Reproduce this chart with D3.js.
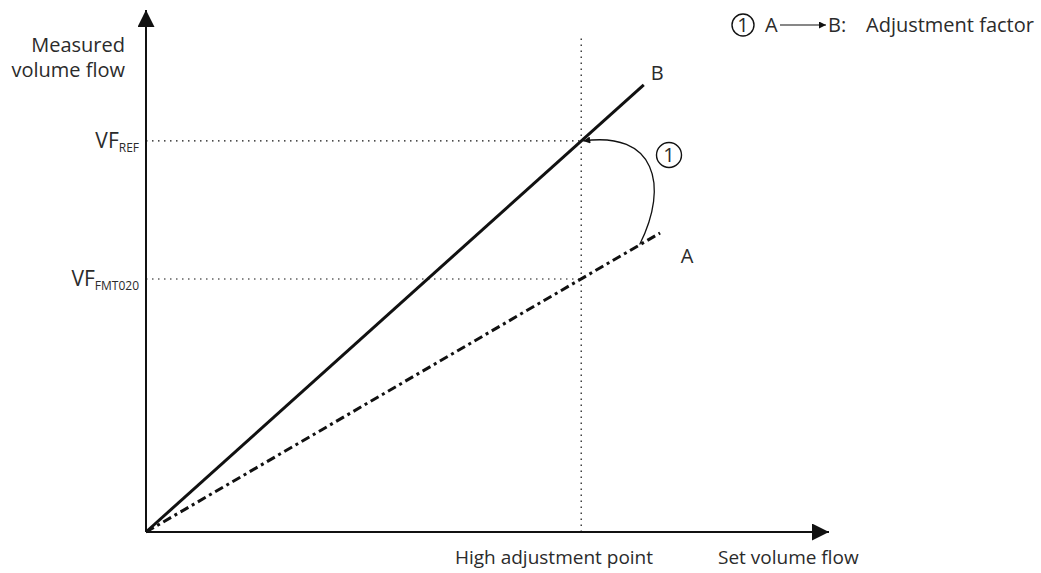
<!DOCTYPE html>
<html>
<head>
<meta charset="utf-8">
<script src="https://cdn.jsdelivr.net/npm/d3@7.9.0/dist/d3.min.js"></script>
<style>
  body { margin: 0; background: #fff; }
  text { font-family: "Open Sans", "Noto Sans", sans-serif; fill: #2b2b2b; }
</style>
</head>
<body>
<svg id="chart" width="1041" height="573"></svg>
<script>
// data (abstract units, 0..10 on both axes)
const adjustX = 6.4;                   // high adjustment point
const lineB = [[0, 0], [7.32, 8.6]];   // after adjustment
const lineA = [[0, 0], [7.56, 5.75]];  // before adjustment (FMT020)
const refLevels = [
  { main: "VF", sub: "REF", y: 7.52 },
  { main: "VF", sub: "FMT020", y: 4.865 }
];
const xLabels = ["High adjustment point", "Set volume flow"];
const yLabel = ["Measured", "volume flow"];
const legendText = ["A", "B:", "Adjustment factor"];

const svg = d3.select("#chart");
const x = d3.scaleLinear().domain([0, 10]).range([146, 826]);
const y = d3.scaleLinear().domain([0, 10]).range([532, 12]);

const ink = "#111";
const fs = "20px";

// arrow markers
const defs = svg.append("defs");
defs.append("marker").attr("id", "bigArrow")
    .attr("viewBox", "0 0 10 10").attr("refX", 10).attr("refY", 5)
    .attr("markerUnits", "userSpaceOnUse")
    .attr("markerWidth", 17).attr("markerHeight", 17).attr("orient", "auto")
  .append("path").attr("d", "M0,0L10,5L0,10Z").attr("fill", ink);
defs.append("marker").attr("id", "smallArrow")
    .attr("viewBox", "0 0 10 10").attr("refX", 10).attr("refY", 5)
    .attr("markerUnits", "userSpaceOnUse")
    .attr("markerWidth", 10).attr("markerHeight", 7).attr("orient", "auto")
  .append("path").attr("d", "M0,0L10,5L0,10Z").attr("fill", ink);

// dotted guides
const dot = "1.5,4.5";
svg.append("line")
    .attr("x1", x(adjustX)).attr("x2", x(adjustX))
    .attr("y1", y(0)).attr("y2", y(9.55))
    .attr("stroke", ink).attr("stroke-width", 1.2).attr("stroke-dasharray", dot);
refLevels.forEach(r => {
  svg.append("line")
      .attr("x1", x(0)).attr("x2", x(adjustX))
      .attr("y1", y(r.y)).attr("y2", y(r.y))
      .attr("stroke", ink).attr("stroke-width", 1.2).attr("stroke-dasharray", dot);
  const t = svg.append("text")
      .attr("x", x(0) - 7).attr("y", y(r.y) + 7)
      .attr("text-anchor", "end").style("font-size", "21px");
  t.append("tspan").text(r.main);
  t.append("tspan").attr("dy", 4).style("font-size", "12px").text(r.sub);
});

// axes
svg.append("line")
    .attr("x1", x(0)).attr("y1", y(0)).attr("x2", x(0)).attr("y2", y(10.04))
    .attr("stroke", ink).attr("stroke-width", 2).attr("marker-end", "url(#bigArrow)");
svg.append("line")
    .attr("x1", x(0)).attr("y1", y(0)).attr("x2", 829).attr("y2", y(0))
    .attr("stroke", ink).attr("stroke-width", 2).attr("marker-end", "url(#bigArrow)");

// series lines
const line = d3.line().x(d => x(d[0])).y(d => y(d[1]));
svg.append("path").datum(lineB).attr("d", line)
    .attr("fill", "none").attr("stroke", ink).attr("stroke-width", 3);
svg.append("path").datum(lineA).attr("d", line)
    .attr("fill", "none").attr("stroke", ink).attr("stroke-width", 3)
    .attr("stroke-dasharray", "9,4,3,4");

// line labels
const endB = lineB[1], endA = lineA[1];
svg.append("text").attr("x", x(endB[0]) + 7).attr("y", y(endB[1]) - 5)
    .style("font-size", fs).text("B");
svg.append("text").attr("x", x(endA[0]) + 27).attr("y", y(endA[1]) + 30)
    .style("font-size", fs).attr("text-anchor", "middle").text("A");

// curved adjustment arrow A -> B
const startPt = [x(7.26), y(5.53)];
const tipPt = [x(adjustX) + 2, y(7.52)];
svg.append("path")
    .attr("d", `M${startPt[0]},${startPt[1]} C${startPt[0] + 30},${startPt[1] - 60} ${startPt[0] + 15},${tipPt[1] - 10} ${tipPt[0]},${tipPt[1]}`)
    .attr("fill", "none").attr("stroke", ink).attr("stroke-width", 1.3)
    .attr("marker-end", "url(#smallArrow)");

// callout circle
function callout(cx, cy, r) {
  svg.append("circle").attr("cx", cx).attr("cy", cy).attr("r", r)
      .attr("fill", "none").attr("stroke", ink).attr("stroke-width", 1.4);
  svg.append("text").attr("x", cx).attr("y", cy + 7)
      .attr("text-anchor", "middle").style("font-size", fs).text("1");
}
callout(669, 155, 12.5);

// axis titles
svg.append("text").attr("x", 554).attr("y", 564).attr("text-anchor", "middle")
    .style("font-size", "19px").text(xLabels[0]);
svg.append("text").attr("x", 718).attr("y", 564)
    .style("font-size", "19px").text(xLabels[1]);
yLabel.forEach((s, i) => {
  svg.append("text").attr("x", 125).attr("y", 52 + i * 25).attr("text-anchor", "end")
      .style("font-size", fs).text(s);
});

// legend
callout(743, 25, 11);
svg.append("text").attr("x", 765).attr("y", 32).style("font-size", fs).text(legendText[0]);
svg.append("line").attr("x1", 780).attr("y1", 25).attr("x2", 826).attr("y2", 25)
    .attr("stroke", ink).attr("stroke-width", 1.2).attr("marker-end", "url(#smallArrow)");
svg.append("text").attr("x", 828).attr("y", 32).style("font-size", fs).text(legendText[1]);
svg.append("text").attr("x", 866).attr("y", 32).style("font-size", fs).text(legendText[2]);
</script>
</body>
</html>
